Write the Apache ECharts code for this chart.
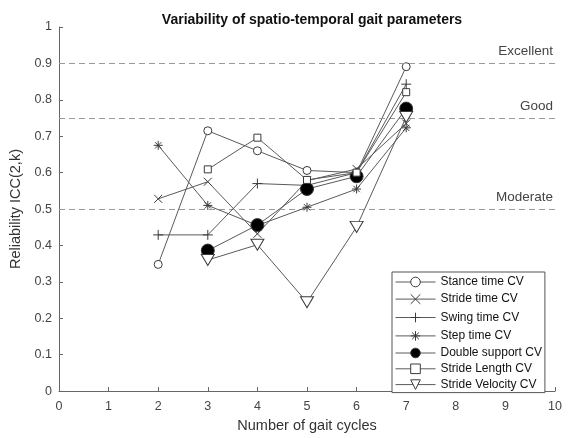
<!DOCTYPE html>
<html>
<head>
<meta charset="utf-8">
<script src="https://cdn.jsdelivr.net/npm/echarts@6/dist/echarts.min.js"></script>
<style>html,body{margin:0;padding:0;background:#fff}#c{width:569px;height:438px}</style>
</head>
<body>
<div id="c"></div>
<script>
const cycles = [2, 3, 4, 5, 6, 7];
const stanceTimeCV    = [0.348, 0.715, 0.660, 0.606, 0.600, 0.891];
const strideTimeCV    = [0.528, 0.575, 0.432, 0.578, 0.610, 0.735];
const swingTimeCV     = [0.429, 0.429, 0.570, 0.565, 0.600, 0.843];
const stepTimeCV      = [0.675, 0.510, 0.455, 0.505, 0.555, 0.723];
const doubleSupportCV = [null, 0.386, 0.456, 0.555, 0.590, 0.776];
const strideLengthCV  = [null, 0.609, 0.696, 0.580, 0.600, 0.821];
const strideVelocityCV= [null, 0.360, 0.402, 0.244, 0.451, 0.753];
const seriesNames = ['Stance time CV','Stride time CV','Swing time CV','Step time CV','Double support CV','Stride Length CV','Stride Velocity CV'];
const thresholds = [0.5, 0.75, 0.9];
const thresholdLabels = ['Moderate', 'Good', 'Excellent'];

const LINE = '#5a5a5a';
const MK = '#3a3a3a';
const FONT = '"Liberation Sans", Arial, sans-serif';

const symbols = [
  {symbol: 'circle', size: 8, fill: '#fff'},
  {symbol: 'path://M0,0 L10,10 M10,0 L0,10', size: 8, fill: 'none'},
  {symbol: 'path://M5,0 L5,10 M0,5 L10,5', size: 10, fill: 'none'},
  {symbol: 'path://M5,0 L5,10 M0,5 L10,5 M1.5,1.5 L8.5,8.5 M8.5,1.5 L1.5,8.5', size: 9, fill: 'none'},
  {symbol: 'circle', size: 13, fill: '#000'},
  {symbol: 'rect', size: 7, fill: '#fff'},
  {symbol: 'path://M0,0 L10,0 L5,8.66 Z', size: [13, 11], fill: '#fff'}
];
const allValues = [stanceTimeCV, strideTimeCV, swingTimeCV, stepTimeCV, doubleSupportCV, strideLengthCV, strideVelocityCV];

function pairs(vals) {
  const out = [];
  cycles.forEach((c, i) => { if (vals[i] !== null) out.push([c, vals[i]]); });
  return out;
}

const series = allValues.map((vals, i) => ({
  name: seriesNames[i],
  type: 'line',
  data: pairs(vals),
  symbol: symbols[i].symbol,
  symbolSize: symbols[i].size,
  showAllSymbol: true,
  animation: false,
  lineStyle: {color: LINE, width: 1},
  itemStyle: {color: symbols[i].fill, borderColor: MK, borderWidth: 1},
  emphasis: {disabled: true},
  z: 3 + i
}));

series.unshift({
  name: 'thresholds',
  type: 'line',
  data: [],
  silent: true,
  animation: false,
  markLine: {
    silent: true,
    symbol: ['none', 'none'],
    animation: false,
    lineStyle: {color: '#9a9a9a', type: [6, 4], width: 1},
    label: {
      show: true,
      position: 'insideEndTop',
      formatter: p => p.name,
      color: '#444',
      fontFamily: FONT,
      fontSize: 13.5,
      distance: [2, 5]
    },
    data: thresholds.map((t, i) => ({name: thresholdLabels[i], yAxis: t}))
  }
});

const chart = echarts.init(document.getElementById('c'), null, {renderer: 'canvas'});
chart.setOption({
  backgroundColor: '#fff',
  animation: false,
  title: {
    text: 'Variability of spatio-temporal gait parameters',
    left: 307, textAlign: 'center', top: 8,
    textStyle: {fontFamily: FONT, fontSize: 14, fontWeight: 'bold', color: '#111'}
  },
  grid: {left: 59, right: 14, top: 27, bottom: 41, containLabel: false},
  legend: {
    data: seriesNames,
    orient: 'vertical',
    left: 392, top: 272,
    itemWidth: 40, itemHeight: 12, itemGap: 3.8,
    padding: [4, 3, 2, 3],
    borderColor: '#555', borderWidth: 1,
    backgroundColor: '#fff',
    lineStyle: {width: 1, color: LINE},
    itemStyle: {borderWidth: 1, borderColor: MK},
    textStyle: {fontFamily: FONT, fontSize: 12, lineHeight: 12, color: '#111'},
    selectedMode: false
  },
  xAxis: {
    type: 'value', min: 0, max: 10, interval: 1,
    name: 'Number of gait cycles', nameLocation: 'middle', nameGap: 26,
    nameTextStyle: {fontFamily: FONT, fontSize: 14.5, color: '#333'},
    axisLine: {lineStyle: {color: '#666'}},
    axisTick: {inside: true, length: 4, lineStyle: {color: '#666'}},
    axisLabel: {fontFamily: FONT, fontSize: 12.5, color: '#444', margin: 9},
    splitLine: {show: false}
  },
  yAxis: {
    type: 'value', min: 0, max: 1, interval: 0.1,
    name: 'Reliability ICC(2,k)', nameLocation: 'middle', nameGap: 27,
    nameTextStyle: {fontFamily: FONT, fontSize: 14.5, color: '#333'},
    axisLine: {show: true, lineStyle: {color: '#666'}},
    axisTick: {show: true, inside: true, length: 4, lineStyle: {color: '#666'}},
    axisLabel: {fontFamily: FONT, fontSize: 12.5, color: '#444', margin: 7},
    splitLine: {show: false}
  },
  series: series
});
</script>
</body>
</html>
